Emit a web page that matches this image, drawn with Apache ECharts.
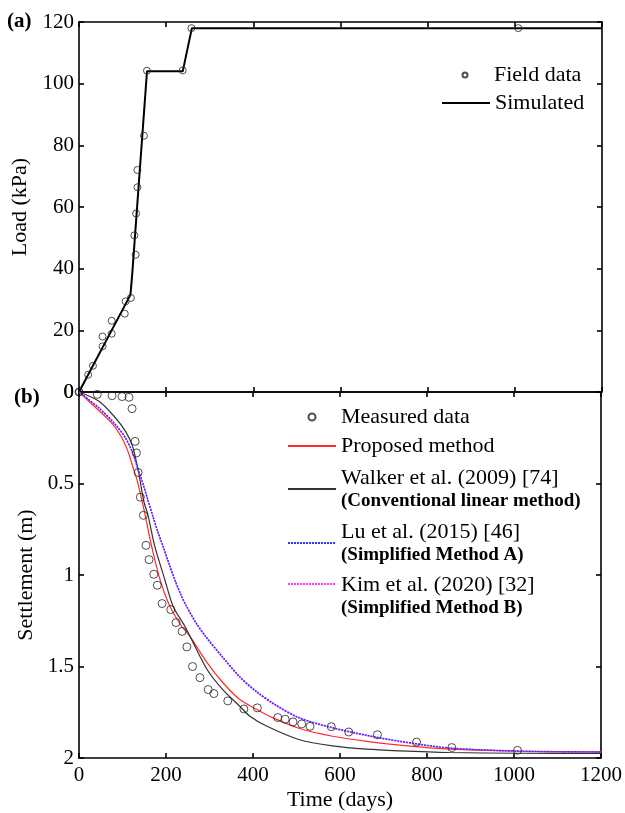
<!DOCTYPE html>
<html><head><meta charset="utf-8">
<script src="https://cdn.jsdelivr.net/npm/echarts@6/dist/echarts.min.js"></script>
<style>html,body{margin:0;padding:0;background:#fff}#c{width:625px;height:813px}</style>
</head><body><div id="c"></div>
<script>
const FONT = '"Liberation Serif","Times New Roman",serif';

// ---------- Panel (a): load history ----------
const fieldTime = [0, 21, 32, 54, 54, 75, 75, 105, 107, 119, 130, 127, 131, 134, 134, 149, 156, 238, 258, 1008];
const fieldLoad = [0, 5.6, 8.5, 14.8, 18.0, 18.9, 23.1, 25.4, 29.4, 30.5, 44.5, 50.8, 57.9, 66.4, 72.0, 83.1, 104.2, 104.3, 118, 118];
const simTime = [0, 118, 122, 156, 238, 259, 1200];
const simLoad = [0, 31.5, 38, 104, 104, 118, 118];

// ---------- Panel (b): settlement ----------
const measTime = [0, 42, 76, 99, 115, 122, 129, 132, 136, 141, 148, 154, 161, 172, 180, 191, 211, 223, 237, 248, 261, 278, 297, 310, 342, 379, 410, 457, 474, 492, 512, 531, 580, 620, 686, 776, 857, 1008];
const measSettle = [0, 0.013, 0.02, 0.025, 0.029, 0.091, 0.27, 0.333, 0.44, 0.575, 0.674, 0.838, 0.916, 0.996, 1.056, 1.156, 1.189, 1.26, 1.308, 1.393, 1.50, 1.561, 1.626, 1.648, 1.688, 1.732, 1.726, 1.779, 1.788, 1.803, 1.814, 1.827, 1.829, 1.858, 1.873, 1.913, 1.943, 1.958];

const propTime = [0, 30, 76, 99, 115, 124, 133, 142, 151, 167, 186, 209, 236, 255, 294, 330, 369, 408, 438, 507, 583, 661, 737, 851, 1012, 1200];
const propSettle = [0, 0.067, 0.171, 0.253, 0.340, 0.411, 0.477, 0.565, 0.660, 0.843, 1.023, 1.171, 1.280, 1.335, 1.477, 1.586, 1.679, 1.734, 1.772, 1.839, 1.881, 1.909, 1.930, 1.952, 1.963, 1.967];

const walkTime = [0, 46, 84, 107, 122, 130, 138, 149, 159, 174, 197, 216, 243, 255, 294, 330, 369, 392, 431, 507, 583, 661, 737, 851, 1012, 1200];
const walkSettle = [0, 0.051, 0.142, 0.215, 0.288, 0.361, 0.452, 0.597, 0.677, 0.841, 1.023, 1.169, 1.279, 1.334, 1.515, 1.625, 1.716, 1.770, 1.825, 1.900, 1.934, 1.952, 1.961, 1.970, 1.974, 1.975];

const luTime = [0, 46, 84, 107, 122, 135, 147, 158, 170, 181, 193, 206, 220, 233, 247, 270, 293, 331, 369, 408, 454, 507, 583, 661, 737, 851, 1012, 1200];
const luSettle = [0, 0.087, 0.178, 0.251, 0.324, 0.415, 0.500, 0.586, 0.679, 0.761, 0.841, 0.931, 1.023, 1.100, 1.169, 1.264, 1.340, 1.450, 1.554, 1.636, 1.712, 1.780, 1.834, 1.875, 1.908, 1.945, 1.962, 1.967];

const kimTime = [0, 46, 84, 107, 122, 135, 147, 158, 170, 181, 193, 206, 220, 233, 247, 270, 293, 331, 369, 408, 454, 507, 583, 661, 737, 851, 1012, 1200];
const kimSettle = [0, 0.089, 0.181, 0.254, 0.327, 0.418, 0.503, 0.590, 0.683, 0.765, 0.845, 0.935, 1.027, 1.104, 1.173, 1.268, 1.344, 1.454, 1.558, 1.640, 1.716, 1.783, 1.837, 1.878, 1.910, 1.946, 1.963, 1.968];

const xTicks = {min: 0, max: 1200, interval: 200};
const loadTicks = {min: 0, max: 120, interval: 20};
const settleTicks = {min: 0, max: 2, interval: 0.5};

const subtitles = {
  'Walker et al. (2009) [74]': '(Conventional linear method)',
  'Lu et al. (2015) [46]': '(Simplified Method A)',
  'Kim et al. (2020) [32]': '(Simplified Method B)'
};

function zip(a, b) { return a.map((v, i) => [v, b[i]]); }

const AX = {color: '#000', width: 1.6};
function frameAxis(extra) {
  return Object.assign({
    type: 'value',
    axisLine: {show: true, onZero: false, lineStyle: AX},
    axisTick: {show: true, inside: true, length: 5, lineStyle: AX},
    axisLabel: {show: false},
    splitLine: {show: false}
  }, extra);
}
const labelStyle = {show: true, color: '#000', fontSize: 21, fontFamily: FONT, formatter: v => String(v)};
const nameStyle = {color: '#000', fontSize: 22, fontFamily: FONT};
const legText = {color: '#000', fontSize: 22, fontFamily: FONT, lineHeight: 24,
  rich: {
    m: {color: '#000', fontSize: 22, fontFamily: FONT, lineHeight: 24},
    b: {color: '#000', fontSize: 19, fontWeight: 'bold', fontFamily: FONT, lineHeight: 22},
    s: {fontSize: 10, lineHeight: 24}
  }};

function legend(name, left, top, isLine, h, fmt) {
  const l = {
    data: [name], left: left, top: top, orient: 'vertical', padding: 0,
    itemWidth: 48, itemHeight: h, itemGap: 0, selectedMode: false,
    textStyle: legText
  };
  if (isLine) l.itemStyle = {color: 'rgba(0,0,0,0)', borderColor: 'rgba(0,0,0,0)', borderWidth: 0, opacity: 0};
  if (fmt) l.formatter = fmt;
  return l;
}
const twoLine = n => '{m|' + n + '}\n{b|' + subtitles[n] + '}';
const firstLineIcon = n => '{s| }\n{m|' + n + '}\n{b|' + subtitles[n] + '}';

const chart = echarts.init(document.getElementById('c'), null, {renderer: 'canvas'});
chart.setOption({
  animation: false,
  backgroundColor: '#fff',
  title: [
    {text: '(a)', left: 7, top: 10, padding: 0, textStyle: {fontSize: 21, fontWeight: 'bold', fontFamily: FONT, color: '#000', lineHeight: 24}},
    {text: '(b)', left: 14, top: 386, padding: 0, textStyle: {fontSize: 21, fontWeight: 'bold', fontFamily: FONT, color: '#000', lineHeight: 24}}
  ],
  grid: [
    {left: 79, top: 22, width: 523, height: 370},
    {left: 79, top: 392, width: 523, height: 366}
  ],
  xAxis: [
    frameAxis(Object.assign({gridIndex: 0, position: 'bottom'}, xTicks)),
    frameAxis(Object.assign({gridIndex: 0, position: 'top'}, xTicks)),
    frameAxis(Object.assign({gridIndex: 1, position: 'bottom',
      axisLabel: Object.assign({margin: 7}, labelStyle),
      name: 'Time (days)', nameLocation: 'middle', nameGap: 31, nameTextStyle: nameStyle}, xTicks)),
    frameAxis(Object.assign({gridIndex: 1, position: 'top'}, xTicks))
  ],
  yAxis: [
    frameAxis(Object.assign({gridIndex: 0, position: 'left',
      axisLabel: Object.assign({margin: 5}, labelStyle),
      name: 'Load (kPa)', nameLocation: 'middle', nameGap: 40, nameTextStyle: nameStyle}, loadTicks)),
    frameAxis(Object.assign({gridIndex: 0, position: 'right'}, loadTicks)),
    frameAxis(Object.assign({gridIndex: 1, position: 'left', inverse: true,
      axisLabel: Object.assign({margin: 5}, labelStyle),
      name: 'Settlement (m)', nameLocation: 'middle', nameGap: 38, nameTextStyle: nameStyle}, settleTicks)),
    frameAxis(Object.assign({gridIndex: 1, position: 'right', inverse: true}, settleTicks))
  ],
  legend: [
    legend('Field data', 461.5, 63, false, 5),
    legend('Simulated', 441, 91, true, 4),
    legend('Measured data', 307.5, 405, false, 7),
    legend('Proposed method', 287, 434, true, 4),
    legend('Walker et al. (2009) [74]', 287, 466, true, 4, twoLine),
    legend('Lu et al. (2015) [46]', 287, 520, true, 4, twoLine),
    legend('Kim et al. (2020) [32]', 287, 549, true, 4, firstLineIcon)
  ],
  series: [
    {name: 'Simulated', type: 'line', xAxisIndex: 0, yAxisIndex: 0, data: zip(simTime, simLoad),
      symbol: 'none', lineStyle: {color: '#000', width: 2}, z: 2},
    {name: 'Field data', type: 'scatter', xAxisIndex: 0, yAxisIndex: 0, data: zip(fieldTime, fieldLoad),
      symbol: 'circle', symbolSize: 7, itemStyle: {color: 'rgba(0,0,0,0)', borderColor: '#222', borderWidth: 1}, z: 3},
    {name: 'Proposed method', type: 'line', xAxisIndex: 2, yAxisIndex: 2, data: zip(propTime, propSettle),
      symbol: 'none', smooth: 0.3, lineStyle: {color: '#ff2a2a', width: 1.2}, z: 2},
    {name: 'Walker et al. (2009) [74]', type: 'line', xAxisIndex: 2, yAxisIndex: 2, data: zip(walkTime, walkSettle),
      symbol: 'none', smooth: 0.3, lineStyle: {color: '#333', width: 1.2}, z: 2},
    {name: 'Kim et al. (2020) [32]', type: 'line', xAxisIndex: 2, yAxisIndex: 2, data: zip(kimTime, kimSettle),
      symbol: 'none', smooth: 0.3, lineStyle: {color: '#ff33ff', width: 1.4, type: [2, 1]}, z: 2},
    {name: 'Lu et al. (2015) [46]', type: 'line', xAxisIndex: 2, yAxisIndex: 2, data: zip(luTime, luSettle),
      symbol: 'none', smooth: 0.3, lineStyle: {color: '#3333ff', width: 1.4, type: [2, 1]}, z: 2},
    {name: 'Measured data', type: 'scatter', xAxisIndex: 2, yAxisIndex: 2, data: zip(measTime, measSettle),
      symbol: 'circle', symbolSize: 8, itemStyle: {color: 'rgba(0,0,0,0)', borderColor: '#222', borderWidth: 1}, z: 3}
  ]
});
</script>
</body></html>
